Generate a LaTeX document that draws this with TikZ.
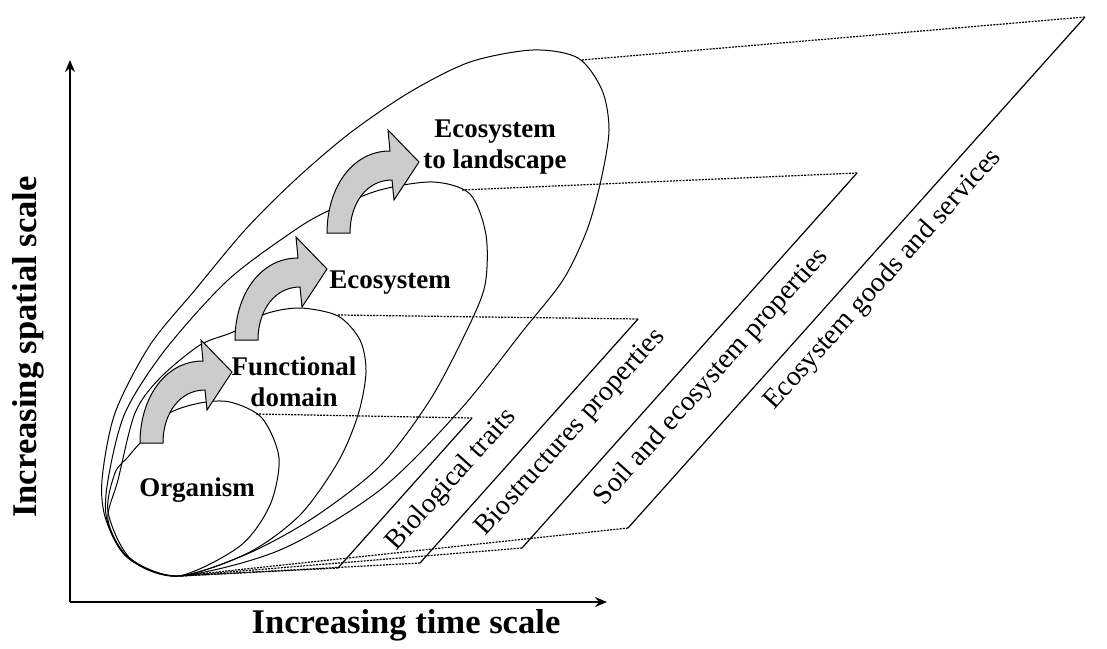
\documentclass[tikz,border=0pt]{standalone}
\usepackage{fontspec}
\setmainfont{Liberation Serif}
\usetikzlibrary{arrows.meta}

\begin{document}
\begin{tikzpicture}[x=0.5pt,y=-0.5pt]
\tikzset{forme/.style={draw, line width=0.5pt},
  bord/.style={draw, line width=0.6pt},
  pointille/.style={draw, line width=0.6pt, dash pattern=on 1pt off 0.6pt},
  axe/.style={draw, line width=0.9pt, -{Stealth[length=6pt,width=5pt]}},
  echelle/.style={font=\bfseries\fontsize{13.5}{15.5}\selectfont, align=center, inner sep=0pt},
  axetexte/.style={font=\bfseries\fontsize{17.3}{20}\selectfont, inner sep=0pt},
  propriete/.style={font=\fontsize{14}{16}\selectfont, rotate=48, inner sep=0pt},
  fleche/.pic={\draw[line width=0.5pt, fill=gray!40] (0,0) .. controls (0,-45) and (25,-82) .. (63,-82) -- (61,-103) -- (92,-71) -- (67,-33) -- (65,-53) .. controls (40,-53) and (23,-30) .. (23,0) -- cycle;}}
\useasboundingbox (0,0) rectangle (1107,648);
% axes
\coordinate (O) at (70,602);
\coordinate (Yh) at (70,60);
\coordinate (Xd) at (607,602);
\draw[axe] (O) -- (Yh);
\draw[axe] (O) -- (Xd);
\node[axetexte, anchor=base] (tps) at (406,633) {Increasing time scale};
\node[axetexte, rotate=90, anchor=base] (esp) at (36,347) {Increasing spatial scale};
% the four nested domains
\draw[forme] plot[smooth cycle] coordinates {(178,576) (128,558) (106,520) (102,480) (115,413) (150,345) (195,290) (245,230) (295,180) (350,133) (410,92) (470,62) (533,50) (578,58) (602,90) (609,130) (601,180) (587,230) (563,280) (522,332) (460,410) (380,490) (280,550)};
\draw[forme] plot[smooth cycle] coordinates {(178,576) (128,558) (107,520) (108,480) (125,413) (165,350) (228,280) (295,230) (330,210) (380,190) (433,182) (470,194) (486,235) (485,285) (467,330) (430,400) (380,466) (313,518) (247,554)};
\draw[forme] plot[smooth cycle] coordinates {(178,576) (129,558) (108,520) (118,480) (135,413) (160,378) (200,345) (233,332) (265,314) (300,308) (338,316) (360,340) (366,372) (358,415) (338,462) (300,515) (248,553)};
\draw[forme] plot[smooth cycle] coordinates {(178,576) (130,558) (108,512) (115,473) (128,457) (140,443) (168,414) (200,403) (230,402) (262,418) (279,458) (270,505) (240,546)};
% planes
\coordinate (B) at (180,576);
\coordinate (t1a) at (256,414);
\coordinate (t1b) at (472,418);
\coordinate (b1) at (338,568);
\coordinate (t2a) at (338,315);
\coordinate (t2b) at (638,319);
\coordinate (b2) at (420,563);
\coordinate (t3a) at (462,190);
\coordinate (t3b) at (857,173);
\coordinate (b3) at (522,548);
\coordinate (t4a) at (582,60);
\coordinate (t4b) at (1085,17);
\coordinate (b4) at (628,528);
\draw[pointille] (t1a) -- (t1b);
\draw[bord] (t1b) -- (b1);
\draw[pointille] (b1) -- (B);
\draw[pointille] (t2a) -- (t2b);
\draw[bord] (t2b) -- (b2);
\draw[pointille] (b2) -- (B);
\draw[pointille] (t3a) -- (t3b);
\draw[bord] (t3b) -- (b3);
\draw[pointille] (b3) -- (B);
\draw[pointille] (t4a) -- (t4b);
\draw[bord] (t4b) -- (b4);
\draw[pointille] (b4) -- (B);
% arrows between scales
\pic at (140,443) {fleche};
\pic at (235,340) {fleche};
\pic at (327,233) {fleche};
% labels
\node[echelle] (org) at (197,490) {Organism};
\node[echelle] (fonc) at (294,382) {Functional\\domain};
\node[echelle] (eco) at (390,283) {Ecosystem};
\node[echelle] (pays) at (495,147) {Ecosystem\\to landscape};
\node[propriete] (trait) at (452,480) {Biological traits};
\node[propriete] (biostr) at (571,433) {Biostructures properties};
\node[propriete] (sol) at (712,377) {Soil and ecosystem properties};
\node[propriete] (serv) at (883,280) {Ecosystem goods and services};
\end{tikzpicture}
\end{document}
